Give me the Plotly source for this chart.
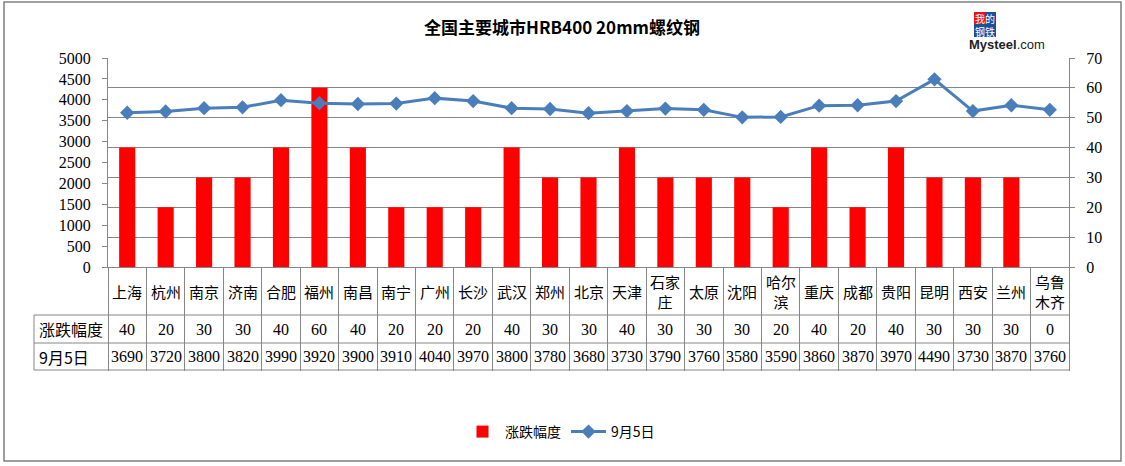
import plotly.graph_objects as go

# ---- data ----
cities = ["上海", "杭州", "南京", "济南", "合肥", "福州", "南昌", "南宁", "广州", "长沙",
          "武汉", "郑州", "北京", "天津", "石家庄", "太原", "沈阳", "哈尔滨", "重庆", "成都",
          "贵阳", "昆明", "西安", "兰州", "乌鲁木齐"]
city_labels = ["上海", "杭州", "南京", "济南", "合肥", "福州", "南昌", "南宁", "广州", "长沙",
               "武汉", "郑州", "北京", "天津", "石家<br>庄", "太原", "沈阳", "哈尔<br>滨", "重庆", "成都",
               "贵阳", "昆明", "西安", "兰州", "乌鲁<br>木齐"]
change = [40, 20, 30, 30, 40, 60, 40, 20, 20, 20,
          40, 30, 30, 40, 30, 30, 30, 20, 40, 20,
          40, 30, 30, 30, 0]
price = [3690, 3720, 3800, 3820, 3990, 3920, 3900, 3910, 4040, 3970,
         3800, 3780, 3680, 3730, 3790, 3760, 3580, 3590, 3860, 3870,
         3970, 4490, 3730, 3870, 3760]
series_change = "涨跌幅度"
series_price = "9月5日"
title_text = "全国主要城市HRB400 20mm螺纹钢"

# ---- layout constants (pixels) ----
W, H = 1125, 466
L, R, T, B = 108, 1069, 58, 267
GREY = "#868686"
CJK = "Noto Sans CJK SC"
NUM = "Liberation Serif, Noto Sans CJK SC"


def px_x(p):
    return (p - L) / (R - L)


def px_y(p):
    return (B - p) / (B - T)


fig = go.Figure()
fig.add_trace(go.Bar(
    x=cities, y=change, name=series_change, yaxis="y",
    marker=dict(color="#FF0000", line=dict(width=0)), width=0.42,
))
fig.add_trace(go.Scatter(
    x=cities, y=price, name=series_price, yaxis="y2",
    mode="lines+markers",
    line=dict(color="#4A7EBB", width=3),
    marker=dict(symbol="diamond", size=11, color="#4A7EBB"),
))

annotations = []
shapes = []

# table rows
row1_y = px_y((267 + 315) / 2)
row2_y = px_y((315 + 343) / 2)
row3_y = px_y((343 + 370) / 2)
for c, lab, ch, pr in zip(cities, city_labels, change, price):
    annotations.append(dict(x=c, y=row1_y, xref="x", yref="paper", text=lab,
                            showarrow=False, font=dict(family=CJK, size=15, color="#000"),
                            xanchor="center", yanchor="middle"))
    annotations.append(dict(x=c, y=row2_y, xref="x", yref="paper", text=str(ch),
                            showarrow=False, font=dict(family=NUM, size=16, color="#000"),
                            xanchor="center", yanchor="middle"))
    annotations.append(dict(x=c, y=row3_y, xref="x", yref="paper", text=str(pr),
                            showarrow=False, font=dict(family=NUM, size=16, color="#000"),
                            xanchor="center", yanchor="middle"))
annotations.append(dict(x=px_x(37), y=row2_y, xref="paper", yref="paper", text=series_change,
                        showarrow=False, font=dict(family=CJK, size=16, color="#000"),
                        xanchor="left", yanchor="middle"))
annotations.append(dict(x=px_x(37), y=row3_y, xref="paper", yref="paper", text=series_price,
                        showarrow=False, font=dict(family=CJK, size=16, color="#000"),
                        xanchor="left", yanchor="middle"))

for yy in (315, 343, 370):
    shapes.append(dict(type="line", xref="paper", yref="paper",
                       x0=px_x(34), x1=1, y0=px_y(yy), y1=px_y(yy),
                       line=dict(color=GREY, width=1)))
shapes.append(dict(type="line", xref="paper", yref="paper",
                   x0=px_x(34), x1=px_x(34), y0=px_y(315), y1=px_y(370),
                   line=dict(color=GREY, width=1)))
# chart border
shapes.append(dict(type="rect", xref="paper", yref="paper",
                   x0=px_x(4), x1=px_x(1121), y0=px_y(461), y1=px_y(2),
                   line=dict(color="#7F7F7F", width=1.5), layer="below"))

# logo: coloured blocks + white characters
for x0, x1, y0, y1, col in ((974, 985, 12, 24, "#E8141B"), (985, 996, 12, 24, "#1B4F9C"),
                            (974, 996, 24, 37, "#1B4F9C")):
    shapes.append(dict(type="rect", xref="paper", yref="paper",
                       x0=px_x(x0), x1=px_x(x1), y0=px_y(y1), y1=px_y(y0),
                       fillcolor=col, line=dict(width=0), layer="above"))
annotations.append(dict(x=px_x(985), y=px_y(24.5), xref="paper", yref="paper",
                        text="我的<br>钢铁", showarrow=False, borderpad=0,
                        font=dict(family=CJK, size=10, color="#FFFFFF"),
                        xanchor="center", yanchor="middle"))
annotations.append(dict(x=px_x(1007), y=px_y(44), xref="paper", yref="paper",
                        text="<b>Mysteel</b>.com",
                        showarrow=False, font=dict(family="Liberation Sans", size=13, color="#222"),
                        xanchor="center", yanchor="middle"))

fig.update_layout(
    width=W, height=H,
    margin=dict(l=L, r=W - R, t=T, b=H - B, pad=0),
    paper_bgcolor="#FFFFFF", plot_bgcolor="#FFFFFF",
    title=dict(text="<b>" + title_text + "</b>", x=562 / W, xanchor="center",
               y=1 - 28 / H, yanchor="middle", yref="container",
               font=dict(family=CJK, size=17, color="#000")),
    xaxis=dict(type="category", range=[-0.5, len(cities) - 0.5],
               showticklabels=False, tickson="boundaries", ticks="outside",
               ticklen=370 - 267, tickcolor=GREY, tickwidth=1,
               showline=True, linecolor=GREY, linewidth=1, showgrid=False,
               fixedrange=True),
    yaxis=dict(side="right", range=[0, 70], dtick=10, tick0=0,
               showgrid=True, gridcolor=GREY, gridwidth=1, zeroline=False,
               showline=True, linecolor=GREY, linewidth=1,
               ticks="outside", ticklen=5, tickcolor=GREY,
               tickfont=dict(family=NUM, size=16, color="#000"), ticklabelstandoff=8),
    yaxis2=dict(side="left", overlaying="y", range=[0, 5000], dtick=500, tick0=0,
                showgrid=False, zeroline=False,
                showline=True, linecolor=GREY, linewidth=1,
                ticks="outside", ticklen=5, tickcolor=GREY,
                tickfont=dict(family=NUM, size=16, color="#000"), ticklabelstandoff=8),
    legend=dict(orientation="h", x=px_x(560), xanchor="center", y=px_y(432), yanchor="middle",
                font=dict(family=CJK, size=14, color="#000"), bgcolor="rgba(0,0,0,0)",
                itemwidth=35, traceorder="normal"),
    showlegend=True,
    annotations=annotations,
    shapes=shapes,
    bargap=0.58,
)

fig.write_html("out.html", config={"displayModeBar": False},
               post_script="document.body.style.margin='0';document.body.style.overflow='hidden';")
